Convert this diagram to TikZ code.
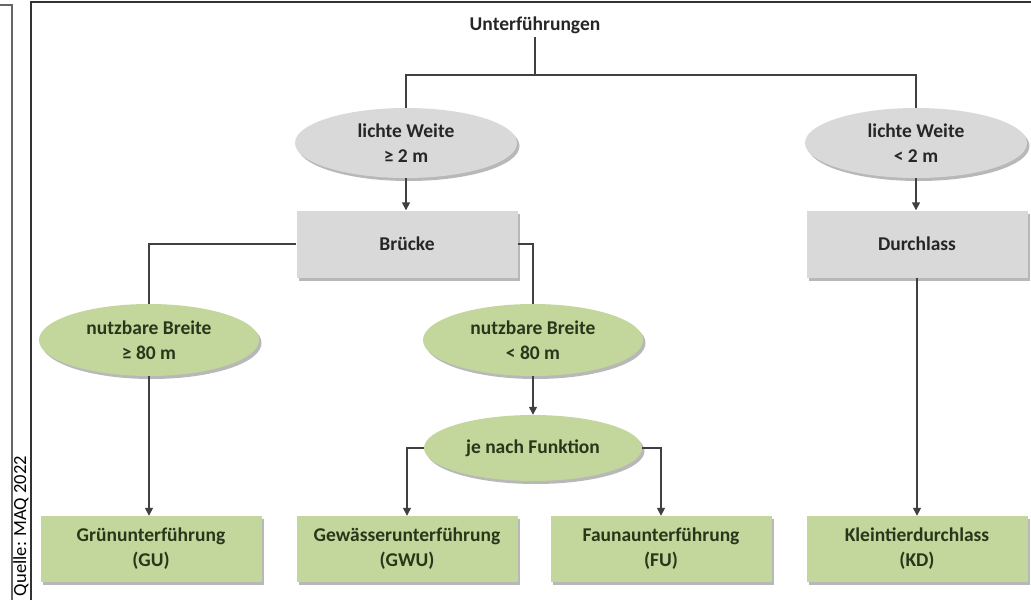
\documentclass[tikz,border=0pt]{standalone}
\usepackage{fontspec}
\setmainfont{Carlito}
\usetikzlibrary{shapes.geometric,shadows,arrows.meta}
\definecolor{boxgray}{HTML}{D9D9D9}
\definecolor{boxgreen}{HTML}{C3D69B}
\definecolor{txtgray}{HTML}{262626}
\definecolor{txtgreen}{HTML}{26381A}
\definecolor{linegray}{HTML}{404040}
\begin{document}
\begin{tikzpicture}[x=1pt,y=-1pt,
  base/.style={font=\fontsize{19.5}{25}\selectfont\bfseries, align=center, inner sep=0pt,
     drop shadow={shadow xshift=2.5pt, shadow yshift=-3pt, fill=black, opacity=0.28}},
  grayell/.style={base, ellipse, fill=boxgray, text=txtgray, minimum width=222pt, minimum height=70pt},
  greenell/.style={base, ellipse, fill=boxgreen, text=txtgreen, minimum width=220pt, minimum height=72pt},
  graybox/.style={base, rectangle, fill=boxgray, text=txtgray, minimum width=221pt, minimum height=67pt},
  greenbox/.style={base, rectangle, fill=boxgreen, text=txtgreen, minimum width=221pt, minimum height=66pt},
  conn/.style={draw=linegray, line width=1.4pt},
  arr/.style={conn, -{Triangle[width=8pt,length=8pt]}},
  frame/.style={draw=black!80, line width=1.3pt}
]
\useasboundingbox (0,0) rectangle (1031,600);
% frames
\draw[frame, draw=black!60] (0,5) -- (12,5) -- (12,600);
\draw[frame] (31,600) -- (31,2) -- (1031,2);
\node[rotate=90, font=\fontsize{18.5}{20}\selectfont, text=black, inner sep=0pt] (src) at (21,526) {Quelle: MAQ 2022};

% nodes
\node[font=\fontsize{19.5}{25}\selectfont\bfseries, text=txtgray, inner sep=3pt] (top) at (535,25) {Unterführungen};
\node[grayell] (e1) at (406,143) {lichte Weite\\≥ 2 m};
\node[grayell] (e2) at (916,143) {lichte Weite\\< 2 m};
\node[graybox] (bruecke) at (407,244) {Brücke};
\node[graybox] (durch) at (917,244) {Durchlass};
\node[greenell] (g1) at (149,340) {nutzbare Breite\\≥ 80 m};
\node[greenell] (g2) at (533,340) {nutzbare Breite\\< 80 m};
\node[greenell, minimum width=218pt, minimum height=66pt] (fn) at (533,448) {je nach Funktion};
\node[greenbox] (gu) at (151,549) {Grünunterführung\\(GU)};
\node[greenbox] (gwu) at (407,549) {Gewässerunterführung\\(GWU)};
\node[greenbox] (fu) at (661,549) {Faunaunterführung\\(FU)};
\node[greenbox] (kd) at (917,549) {Kleintierdurchlass\\(KD)};

% connectors
\coordinate (j) at (535,75);
\draw[conn] (top.south) -- (j);
\draw[conn] (e1.north) |- (j) -| (e2.north);
\draw[arr] (e1.south) -- (e1.south |- bruecke.north);
\draw[arr] (e2.south) -- (e2.south |- durch.north);
\draw[conn] (bruecke.west) -| (g1.north);
\draw[conn] (bruecke.east) -| (g2.north);
\draw[arr] (g1.south) -- (g1.south |- gu.north);
\draw[arr] (g2.south) -- (fn.north);
\draw[arr] (fn.west) -| (gwu.north);
\draw[arr] (fn.east) -| (fu.north);
\draw[arr] (durch.south) -- (durch.south |- kd.north);
\end{tikzpicture}
\end{document}
